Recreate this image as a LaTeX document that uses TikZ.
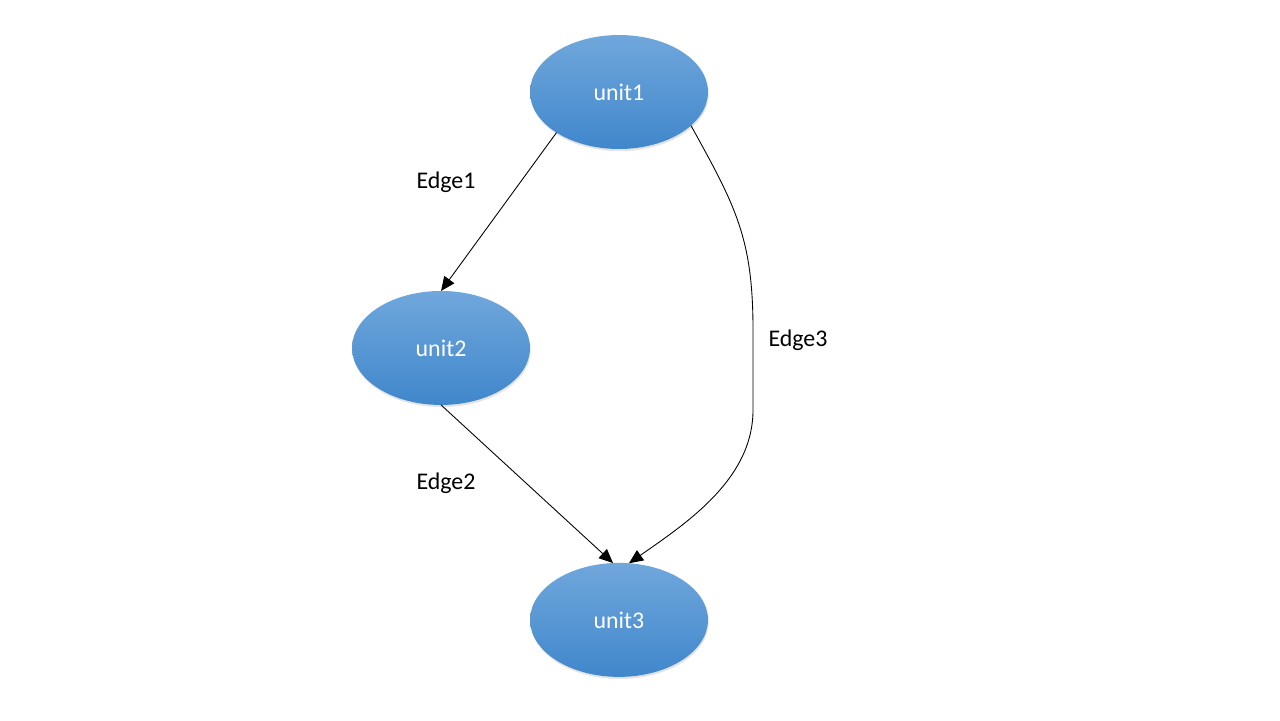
\documentclass[tikz,border=0pt]{standalone}
\usepackage{fontspec}
\setmainfont{Carlito}
\usetikzlibrary{positioning,shapes.geometric,arrows.meta,shadows}

\definecolor{unittop}{RGB}{112,167,220}
\definecolor{unitbottom}{RGB}{64,135,203}

\tikzset{
  unitnode/.style={draw=none, ellipse, minimum width=3.56cm, minimum height=2.28cm,
    inner sep=0pt, outer sep=0pt, top color=unittop, bottom color=unitbottom,
    text=white, font=\fontsize{13.6}{16}\selectfont,
    drop shadow={opacity=0.22, shadow xshift=0.4pt, shadow yshift=-1.2pt}},
  edgelabel/.style={font=\fontsize{13.6}{16}\selectfont, inner sep=0pt},
  edgeline/.style={-{Triangle[length=8pt,width=7pt]}, line width=0.5pt}
}

\begin{document}
\begin{tikzpicture}[x=0.02cm, y=-0.02cm]
\useasboundingbox (0,0) rectangle (1280,720);

% Define nodes
\node[unitnode] (unit1) at (619,92) {unit1};
\node[unitnode, on grid, below left=5.12cm and 3.56cm of unit1] (unit2) {unit2};
\node[unitnode, on grid, below right=5.44cm and 3.56cm of unit2] (unit3) {unit3};
\coordinate (bendtop) at (753,330);
\coordinate (bendbot) at (753,410);

% Draw arrows
\draw[edgeline] (unit1.213) -- (unit2.north);
\draw[edgeline] (unit2.south) -- (unit3.96);
\draw[edgeline] (unit1.-25) to[out=-61, in=90, looseness=1.1] (bendtop) -- (bendbot)
  to[out=-90, in=35, looseness=0.9] (unit3.80);

% Add labels
\node[edgelabel] (label1) at (446,182) {Edge1};
\node[edgelabel] (label2) at (446,483) {Edge2};
\node[edgelabel] (label3) at (798,340) {Edge3};

\end{tikzpicture}
\end{document}
